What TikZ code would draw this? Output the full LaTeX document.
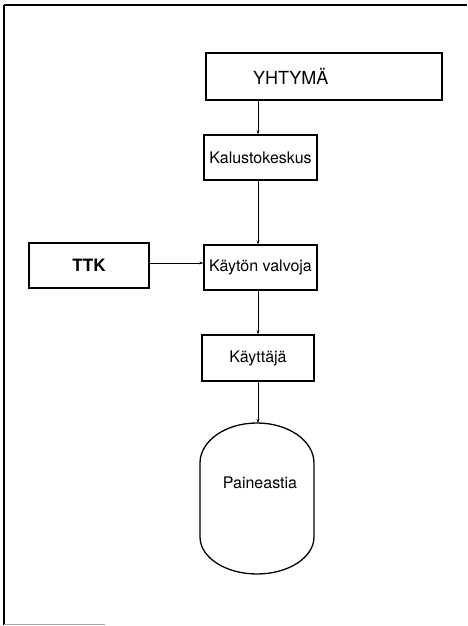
\documentclass[tikz,border=0pt]{standalone}
\usepackage{fontspec}
\setmainfont{TeX Gyre Heros}
\usetikzlibrary{arrows.meta}
\begin{document}
\begin{tikzpicture}[x=1pt,y=1pt,
  box/.style={draw, line width=1.3pt, inner sep=0pt, font=\fontsize{16}{18}\selectfont},
  conn/.style={line width=0.8pt, -{Stealth[length=4pt,width=3pt]}}]
\useasboundingbox (0,0) rectangle (467,626);
% frame
\draw[line width=1.6pt] (467,621) -- (4,621);
\draw[line width=2.2pt] (4,621) -- (4,1);
\draw[line width=0.8pt, black!35] (4,2) -- (105,2);
% spine
\coordinate (spine) at (258,0);
% nodes
\node[box, text width=236pt, minimum height=47pt, align=left] (yht) at (324,549.5)
  {\hspace*{47pt}\fontsize{18}{20}\selectfont YHTYMÄ};
\node[box, minimum width=113pt, minimum height=45pt] (kal) at (260.5,468.5) {Kalustokeskus};
\node[box, minimum width=113pt, minimum height=45pt] (kv) at (260.5,358.5) {Käytön valvoja};
\node[box, minimum width=120pt, minimum height=45pt, font=\fontsize{17}{19}\selectfont\bfseries] (ttk) at (89,360.5) {TTK};
\node[box, minimum width=112pt, minimum height=46pt] (kay) at (258,268) {Käyttäjä};
% pressure vessel
\coordinate (patop) at (257,203);
\draw[line width=1.3pt] (200,163) -- (200,89) arc[start angle=180, end angle=360, x radius=57, y radius=37]
  -- (314,163) arc[start angle=0, end angle=180, x radius=57, y radius=40] -- cycle;
\node[font=\fontsize{16}{18}\selectfont] (pa) at (260,143) {Paineastia};
% connectors
\draw[conn] (yht.south -| spine) -- (kal.north -| spine);
\draw[conn] (kal.south -| spine) -- (kv.north -| spine);
\draw[conn] (kv.south -| spine) -- (kay.north -| spine);
\draw[conn] (kay.south -| spine) -- (patop -| spine);
\draw[conn] (ttk.east |- 0,363) -- (kv.west |- 0,363);
\end{tikzpicture}
\end{document}
